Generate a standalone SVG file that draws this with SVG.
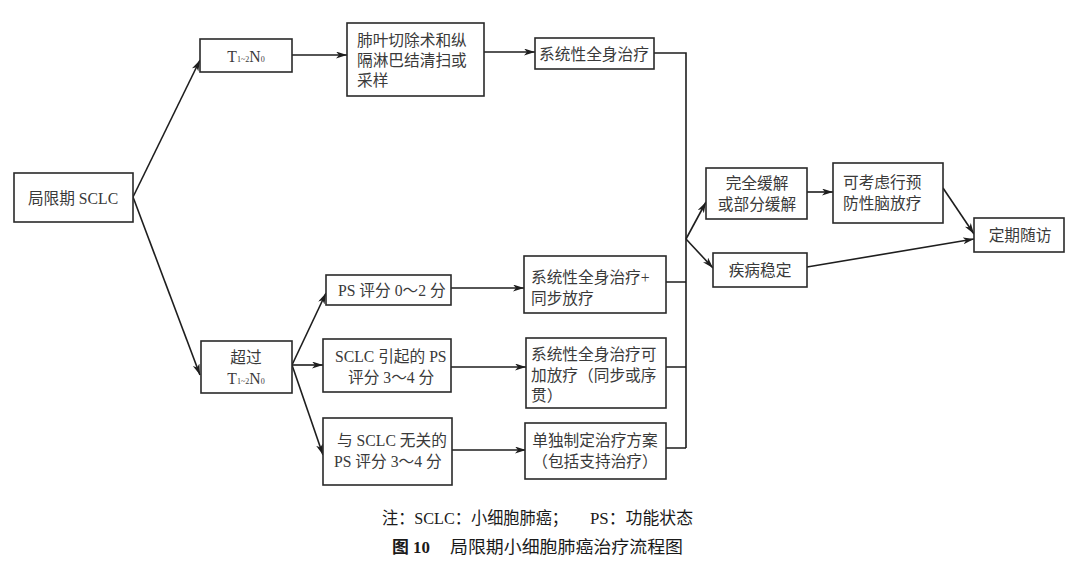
<svg xmlns="http://www.w3.org/2000/svg" width="1080" height="572" viewBox="0 0 1080 572">
<defs>
<marker id="arr" markerUnits="userSpaceOnUse" markerWidth="12" markerHeight="8" refX="11" refY="3.5" orient="auto">
<path d="M0,0 L11,3.5 L0,7 L3,3.5 z" fill="#1e1e1e"/>
</marker>
<style>
rect{fill:#fff;stroke:#2a2a2a;stroke-width:1.6}
text{font-family:"Liberation Serif","Noto Sans CJK SC",serif;font-size:15.7px;fill:#3a3a3a;dominant-baseline:central}
.c{text-anchor:middle}
.s{font-size:8px}
#connectors path{fill:none;stroke:#1e1e1e;stroke-width:1.6}
.a{marker-end:url(#arr)}
.cap{fill:#1a1a1a;font-size:17px}
.b{font-weight:bold}
</style>
</defs>
<rect x="0" y="0" width="1080" height="572" style="fill:#fff;stroke:none"/>
<g id="connectors">
<path class="a" d="M133,197 L200,60"/>
<path class="a" d="M133,197 L200,375"/>
<path class="a" d="M292,55 L347,55"/>
<path class="a" d="M484,52 L535,52"/>
<path d="M654,53 H686 V448"/>
<path d="M666,282 H686 M666,367 H686 M666,448 H686"/>
<path class="a" d="M686,239 L706,202"/>
<path class="a" d="M686,239 L713,268"/>
<path class="a" d="M807,192 L833,192"/>
<path class="a" d="M943,188 L974,234"/>
<path class="a" d="M807,267 L974,239"/>
<path class="a" d="M292,365 L326,293"/>
<path class="a" d="M292,365 L323,365"/>
<path class="a" d="M292,365 L323,455"/>
<path class="a" d="M451,288 L524,288"/>
<path class="a" d="M451,367 L526,367"/>
<path class="a" d="M452,450 L526,450"/>
</g>
<g id="n-local">
<rect x="14" y="173" width="119" height="49"/>
<text class="c" x="73" y="198">局限期 SCLC</text>
</g>
<g id="n-t12n0">
<rect x="200" y="39" width="92" height="33"/>
<text class="c" x="246" y="56">T<tspan class="s" dy="3">1~2</tspan><tspan dy="-3">N</tspan><tspan class="s" dy="3">0</tspan></text>
</g>
<g id="n-surgery">
<rect x="347" y="23" width="137" height="73"/>
<text x="357" y="40">肺叶切除术和纵</text>
<text x="357" y="60">隔淋巴结清扫或</text>
<text x="357" y="80">采样</text>
</g>
<g id="n-sys1">
<rect x="535" y="38" width="119" height="31"/>
<text class="c" x="594" y="54">系统性全身治疗</text>
</g>
<g id="n-beyond">
<rect x="201" y="341" width="91" height="52"/>
<text class="c" x="246" y="357">超过</text>
<text class="c" x="246" y="378">T<tspan class="s" dy="3">1~2</tspan><tspan dy="-3">N</tspan><tspan class="s" dy="3">0</tspan></text>
</g>
<g id="n-ps02">
<rect x="326" y="275" width="125" height="30"/>
<text x="338" y="290">PS 评分 0～2 分</text>
</g>
<g id="n-ps34a">
<rect x="323" y="339" width="128" height="53"/>
<text x="335" y="356">SCLC 引起的 PS</text>
<text x="348" y="377">评分 3～4 分</text>
</g>
<g id="n-ps34b">
<rect x="323" y="418" width="129" height="67"/>
<text x="337" y="440">与 SCLC 无关的</text>
<text x="334" y="461">PS 评分 3～4 分</text>
</g>
<g id="n-sys2">
<rect x="524" y="256" width="142" height="57"/>
<text x="531" y="277">系统性全身治疗+</text>
<text x="531" y="298">同步放疗</text>
</g>
<g id="n-sys3">
<rect x="526" y="338" width="140" height="70"/>
<text x="531" y="354">系统性全身治疗可</text>
<text x="531" y="375">加放疗（同步或序</text>
<text x="531" y="395">贯）</text>
</g>
<g id="n-indiv">
<rect x="525" y="423" width="141" height="56"/>
<text class="c" x="595" y="440">单独制定治疗方案</text>
<text class="c" x="595" y="461">（包括支持治疗）</text>
</g>
<g id="n-remission">
<rect x="706" y="168" width="101" height="51"/>
<text class="c" x="757" y="183">完全缓解</text>
<text class="c" x="757" y="204">或部分缓解</text>
</g>
<g id="n-pci">
<rect x="833" y="163" width="110" height="60"/>
<text x="843" y="182">可考虑行预</text>
<text x="843" y="203">防性脑放疗</text>
</g>
<g id="n-stable">
<rect x="713" y="253" width="94" height="34"/>
<text class="c" x="760" y="270">疾病稳定</text>
</g>
<g id="n-follow">
<rect x="974" y="218" width="90" height="34"/>
<text class="c" x="1020" y="235">定期随访</text>
</g>
<g id="caption">
<text class="cap" x="382" y="518" textLength="186" lengthAdjust="spacingAndGlyphs">注：SCLC：小细胞肺癌；</text>
<text class="cap" x="590" y="518" textLength="103" lengthAdjust="spacingAndGlyphs">PS：功能状态</text>
<text class="cap b" x="392" y="547" textLength="38" lengthAdjust="spacingAndGlyphs">图 10</text>
<text class="cap" x="450" y="547" textLength="233" lengthAdjust="spacingAndGlyphs">局限期小细胞肺癌治疗流程图</text>
</g>
</svg>
